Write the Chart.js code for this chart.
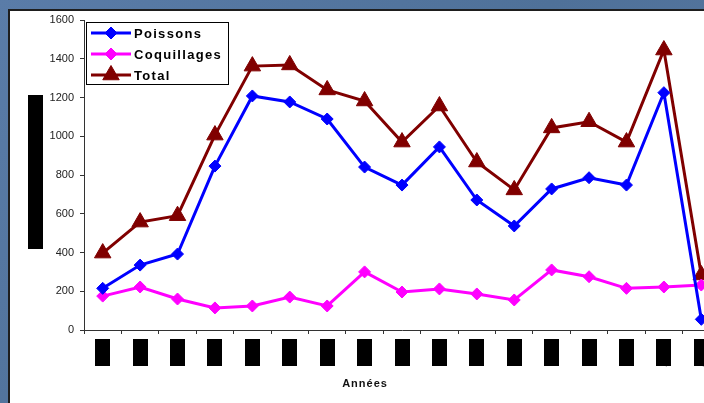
<!DOCTYPE html>
<html><head><meta charset="utf-8">
<script src="https://cdn.jsdelivr.net/npm/chart.js@4.4.0/dist/chart.umd.min.js"></script>
<style>
html,body{margin:0;padding:0;width:704px;height:403px;overflow:hidden;
 background:linear-gradient(135deg,#5a7ca8 0%,#4f7199 50%,#5878a3 100%);}
#panel{position:absolute;left:8px;top:9px;width:800px;height:500px;background:#fff;
 border-left:2px solid #1e1e1e;border-top:2px solid #1e1e1e;}
#wrap{position:absolute;left:0;top:0;width:760px;height:420px;}
</style></head><body>
<div id="panel"></div>
<div id="wrap"><canvas id="c" width="760" height="420"></canvas></div>
<script>
const categories = ["1985","1986","1987","1988","1989","1990","1991","1992","1993","1994","1995","1996","1997","1998","1999","2000","2001"];
const poissons    = [215, 335, 392, 846, 1208, 1177, 1089, 841, 748, 945, 671, 537, 728, 786, 748, 1225, 55];
const coquillages = [175, 222, 160, 114, 124, 170, 124, 300, 196, 212, 186, 155, 310, 275, 215, 222, 232];
const total       = [397, 557, 590, 1006, 1362, 1368, 1239, 1182, 970, 1156, 867, 723, 1043, 1075, 970, 1445, 284];
const yTicks = [0, 200, 400, 600, 800, 1000, 1200, 1400, 1600];
const seriesNames = ["Poissons", "Coquillages", "Total"];
const xTitle = "Années";

const FONT = "'Liberation Sans', Arial, sans-serif";

const decor = {
  id: 'decor',
  afterDraw(chart) {
    const ctx = chart.ctx, ca = chart.chartArea, xs = chart.scales.x;
    ctx.save();
    // redacted y-axis title
    ctx.fillStyle = '#000';
    const cy = (ca.top + ca.bottom) / 2 - 3;
    ctx.fillRect(ca.left - 56, cy - 77, 15, 154);
    // redacted x tick labels
    categories.forEach((c, i) => {
      const x = xs.getPixelForValue(i);
      ctx.fillRect(Math.round(x - 7.5), ca.bottom + 9, 15, 27);
    });
    // x title
    ctx.fillStyle = '#111';
    ctx.font = "bold 11px " + FONT;
    ctx.letterSpacing = '1px';
    ctx.textAlign = 'center';
    ctx.textBaseline = 'middle';
    ctx.fillText(xTitle, ca.left + 281, ca.bottom + 54);
    // legend
    const lx = ca.left + 2, ly = ca.top + 2;
    ctx.fillStyle = '#fff';
    ctx.fillRect(lx, ly, 142, 62);
    ctx.strokeStyle = '#000';
    ctx.lineWidth = 1;
    ctx.strokeRect(lx + 0.5, ly + 0.5, 142, 62);
    chart.data.datasets.forEach((ds, i) => {
      const yy = ly + 11 + i * 21;
      ctx.strokeStyle = ds.borderColor;
      ctx.lineWidth = 3;
      ctx.beginPath();
      ctx.moveTo(lx + 5, yy);
      ctx.lineTo(lx + 45, yy);
      ctx.stroke();
      ctx.fillStyle = ds.pointBackgroundColor;
      ctx.strokeStyle = ds.pointBorderColor;
      ctx.lineWidth = 1;
      Chart.helpers.drawPoint(ctx, {pointStyle: ds.pointStyle, radius: ds.pointRadius, borderWidth: 1, rotation: 0}, lx + 25, yy);
      ctx.fillStyle = '#000';
      ctx.font = "bold 13px " + FONT;
      ctx.letterSpacing = '1.3px';
      ctx.textAlign = 'left';
      ctx.textBaseline = 'middle';
      ctx.fillText(ds.label, lx + 48, yy + 1);
    });
    ctx.restore();
  }
};

const mk = (label, data, color, style, r) => ({
  label, data,
  borderColor: color, backgroundColor: color,
  pointBackgroundColor: color, pointBorderColor: color,
  pointStyle: style, pointRadius: r, pointHoverRadius: r, pointBorderWidth: 1,
  borderWidth: 3, tension: 0, fill: false
});

new Chart(document.getElementById('c'), {
  type: 'line',
  data: {
    labels: categories,
    datasets: [
      mk(seriesNames[0], poissons, '#0000ff', 'rectRot', 6),
      mk(seriesNames[1], coquillages, '#ff00ff', 'rectRot', 6),
      mk(seriesNames[2], total, '#800000', 'triangle', 9.5)
    ]
  },
  options: {
    responsive: false,
    animation: false,
    devicePixelRatio: 1,
    layout: {padding: {top: 20, right: 40, left: 0, bottom: 0}},
    plugins: {legend: {display: false}, tooltip: {enabled: false}},
    scales: {
      x: {
        type: 'category',
        offset: true,
        grid: {display: true, offset: true, drawOnChartArea: false, drawTicks: true, tickLength: 4, color: '#333'},
        border: {display: true, color: '#333', width: 1},
        ticks: {color: '#000', font: {family: FONT, size: 11, weight: 'bold'}, minRotation: 90, maxRotation: 90, autoSkip: false, padding: 8},
        afterFit: s => { s.height = 90; }
      },
      y: {
        min: yTicks[0], max: yTicks[yTicks.length - 1],
        afterBuildTicks: s => { s.ticks = yTicks.map(v => ({value: v})); },
        grid: {display: true, drawOnChartArea: false, drawTicks: true, tickLength: 4, color: '#333'},
        border: {display: true, color: '#333', width: 1},
        ticks: {color: '#222', font: {family: FONT, size: 11}, padding: 6, callback: v => String(v)},
        afterFit: s => { s.width = 84; }
      }
    }
  },
  plugins: [decor]
});
</script>
</body></html>
